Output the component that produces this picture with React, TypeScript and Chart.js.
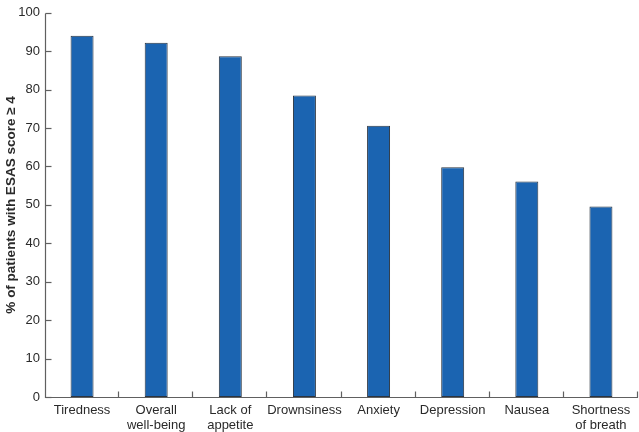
import React, { useEffect, useRef } from "react";
import { Chart, registerables } from "chart.js";

Chart.register(...registerables);

const categories: (string | string[])[] = [
  "Tiredness",
  ["Overall", "well-being"],
  ["Lack of", "appetite"],
  "Drownsiness",
  "Anxiety",
  "Depression",
  "Nausea",
  ["Shortness", "of breath"],
];
const percentValues = [94.0, 92.2, 88.7, 78.5, 70.6, 59.8, 56.1, 49.6];
const yTicks = [0, 10, 20, 30, 40, 50, 60, 70, 80, 90, 100];
const yTitle = "% of patients with ESAS score \u2265 4";

const FONT = "'Liberation Sans', Arial, Helvetica, sans-serif";
const AXIS_COLOR = "#606060";
const TEXT_COLOR = "#2a2a2a";

const innerTicks = {
  id: "innerTicks",
  afterDraw(chart: any) {
    const ctx = chart.ctx;
    const x = chart.scales.x;
    const y = chart.scales.y;
    const ax = Math.round(chart.chartArea.left) + 0.5;
    const ay = Math.round(chart.chartArea.bottom) + 0.5;
    ctx.save();
    ctx.lineWidth = 1.2;
    ctx.strokeStyle = AXIS_COLOR;
    ctx.beginPath();
    ctx.moveTo(ax, Math.round(chart.chartArea.top) + 0.5);
    ctx.lineTo(ax, ay);
    ctx.lineTo(chart.chartArea.right, ay);
    ctx.stroke();
    for (const v of yTicks) {
      const py = Math.round(y.getPixelForValue(v)) + 0.5;
      ctx.beginPath();
      ctx.moveTo(ax, py);
      ctx.lineTo(ax + 6, py);
      ctx.stroke();
    }
    const n = categories.length;
    const step = x.getPixelForValue(1) - x.getPixelForValue(0);
    for (let i = 1; i <= n; i++) {
      const px = Math.round(x.getPixelForValue(i - 1) + step / 2) - 0.5;
      ctx.beginPath();
      ctx.moveTo(px, ay);
      ctx.lineTo(px, ay - 6);
      ctx.stroke();
    }
    ctx.restore();
  },
};

export default function App() {
  const ref = useRef<HTMLCanvasElement>(null);
  useEffect(() => {
    if (!ref.current) return;
    const chart = new Chart(ref.current, {
      type: "bar",
      data: {
        labels: categories,
        datasets: [
          {
            data: percentValues,
            backgroundColor: "#1b64b1",
            borderColor: "#2b3440",
            borderWidth: 1,
            borderSkipped: false,
            barPercentage: 0.31,
            categoryPercentage: 1,
          },
        ],
      },
      options: {
        animation: false,
        responsive: false,
        layout: { padding: { top: 7, right: 1, left: 0, bottom: 0 } },
        plugins: { legend: { display: false }, tooltip: { enabled: false } },
        scales: {
          x: {
            offset: true,
            border: { display: false },
            grid: { display: false, drawTicks: false },
            ticks: {
              color: TEXT_COLOR,
              font: { family: FONT, size: 13, lineHeight: 1.15 },
              padding: 6,
              maxRotation: 0,
              autoSkip: false,
            },
            afterFit(scale: any) {
              scale.height = 35;
            },
          },
          y: {
            min: 0,
            max: 100,
            border: { display: false },
            grid: { display: false, drawTicks: false },
            afterBuildTicks(scale: any) {
              scale.ticks = yTicks.map((v) => ({ value: v }));
            },
            ticks: {
              color: TEXT_COLOR,
              font: { family: FONT, size: 13 },
              padding: 5,
            },
            title: {
              display: true,
              text: yTitle,
              color: TEXT_COLOR,
              font: { family: FONT, size: 13.5, weight: "bold" },
              padding: { top: 3, bottom: 0 },
            },
            afterFit(scale: any) {
              scale.width = 45;
            },
          },
        },
      },
      plugins: [innerTicks],
    });
    return () => chart.destroy();
  }, []);
  return (
    <div style={{ position: "fixed", left: 0, top: 0, width: 639, height: 432, background: "#fff" }}>
      <canvas ref={ref} width={639} height={432} style={{ display: "block" }} />
    </div>
  );
}
